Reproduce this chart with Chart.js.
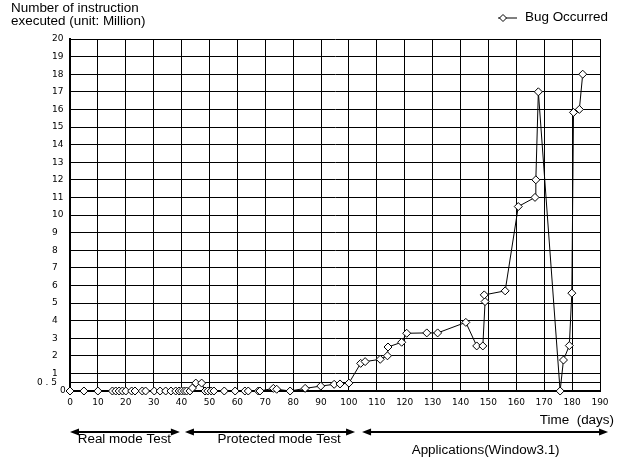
<!DOCTYPE html>
<html>
<head>
<meta charset="utf-8">
<script src="https://cdn.jsdelivr.net/npm/chart.js@4.4.1/dist/chart.umd.min.js"></script>
<style>
	html, body { margin: 0; padding: 0; background: #fff; }
</style>
</head>
<body>
<canvas id="bug-chart" width="623" height="457"></canvas>
<script>
// days since start of testing
const days = [
	0, 5, 10, 15.2, 16.4, 17.6, 18.8, 20, 22.1, 23.3, 25.9, 27.1, 30.2, 32.3,
	34.3, 36.2, 37.9, 39.1, 40, 41, 41.8, 43, 43.9, 45.1, 47.2, 48.4, 49.4,
	50.6, 51.6, 55.3, 59.2, 62.7, 63.9, 67.5, 68.1, 72.9, 74.1, 78.9, 84.3,
	89.9, 94.7, 96.8, 100, 104.2, 105.8, 111.2, 113.8, 114, 118.9, 120.7,
	127.9, 131.8, 141.9, 145.8, 148, 148.8, 148.5, 156, 160.7, 166.7, 167,
	167.9, 175.7, 176.9, 179, 179.9, 180.5, 182.6, 183.8,
];
// instructions executed before the bug showed up (million)
const instructions = [
	0, 0, 0, 0, 0, 0, 0, 0, 0, 0, 0, 0, 0, 0,
	0, 0, 0, 0, 0, 0, 0, 0, 0.17, 0.45, 0.45, 0, 0,
	0, 0, 0, 0, 0, 0, 0, 0, 0.15, 0.1, 0, 0.15,
	0.28, 0.38, 0.4, 0.45, 1.57, 1.67, 1.8, 2.0, 2.5, 2.77, 3.28,
	3.3, 3.3, 3.9, 2.56, 2.56, 5.08, 5.46, 5.69, 10.48, 11, 12,
	17, 0, 1.76, 2.58, 5.56, 15.83, 16, 18,
];
const yTicks = [0, 0.5, 1, 2, 3, 4, 5, 6, 7, 8, 9, 10, 11, 12, 13, 14, 15, 16, 17, 18, 19, 20];
const phaseNames = ["Real mode Test", "Protected mode Test", "Applications(Window3.1)"];
const phaseStart = [0, 41.2, 104.7];
const phaseEnd = [39.4, 102.2, 192.9];
const phaseLabelDay = [19.5, 75, 149];

const textFont = '12px "Liberation Sans", Arial, sans-serif';
const tickFont = '9px "DejaVu Sans", sans-serif';

// draw text slightly widened like the original
function wideText(ctx, text, x, y, align) {
	ctx.save();
	ctx.translate(x, y);
	ctx.scale(1.12, 1);
	ctx.textAlign = align;
	ctx.fillText(text, 0, 0);
	ctx.restore();
}

function diamond(ctx, x, y, r) {
	ctx.beginPath();
	ctx.moveTo(x, y - r);
	ctx.lineTo(x + r, y);
	ctx.lineTo(x, y + r);
	ctx.lineTo(x - r, y);
	ctx.closePath();
	ctx.fillStyle = "#fff";
	ctx.fill();
	ctx.stroke();
}

function arrowHead(ctx, x, y, dir) {
	ctx.beginPath();
	ctx.moveTo(x, y);
	ctx.lineTo(x - dir * 9, y - 3.5);
	ctx.lineTo(x - dir * 9, y + 3.5);
	ctx.closePath();
	ctx.fill();
}

const decorations = {
	id: "decorations",
	afterDraw(chart) {
		const ctx = chart.ctx;
		const xs = chart.scales.x;
		const ys = chart.scales.y;
		ctx.save();
		ctx.fillStyle = "#000";
		ctx.strokeStyle = "#000";
		ctx.lineWidth = 1;

		// y tick labels
		ctx.font = tickFont;
		ctx.textBaseline = "middle";
		yTicks.forEach((v) => {
			const py = ys.getPixelForValue(v);
			if (v === 0.5) {
				ctx.textAlign = "right";
				ctx.fillText("0 . 5", 57, py);
			} else if (v === 0) {
				ctx.textAlign = "left";
				ctx.fillText("0", 60, py);
			} else {
				ctx.textAlign = "left";
				ctx.fillText(String(v), 52, py);
			}
		});

		// axis titles
		ctx.font = textFont;
		ctx.fillStyle = "#000";
		wideText(ctx, "Number of instruction", 11, 9, "left");
		wideText(ctx, "executed (unit: Million)", 11, 22, "left");
		ctx.save();
		ctx.translate(614, 421);
		ctx.scale(1.12, 1);
		ctx.textAlign = "right";
		ctx.fillText("Time  (days)", 0, 0);
		ctx.restore();

		// legend
		ctx.beginPath();
		ctx.moveTo(498, 18);
		ctx.lineTo(517, 18);
		ctx.stroke();
		diamond(ctx, 503, 18, 3.5);
		ctx.fillStyle = "#000";
		wideText(ctx, "Bug Occurred", 525, 18, "left");

		// test phases
		const ay = 432;
		phaseNames.forEach((name, i) => {
			const x1 = xs.getPixelForValue(phaseStart[i]);
			const x2 = xs.getPixelForValue(phaseEnd[i]);
			ctx.lineWidth = 2;
			ctx.beginPath();
			ctx.moveTo(x1 + 4, ay);
			ctx.lineTo(x2 - 4, ay);
			ctx.stroke();
			arrowHead(ctx, x1, ay, -1);
			arrowHead(ctx, x2, ay, 1);
			const ly = i === 2 ? 451 : 440;
			wideText(ctx, name, xs.getPixelForValue(phaseLabelDay[i]), ly, "center");
		});
		ctx.restore();
	},
};

const ctx = document.getElementById("bug-chart").getContext("2d");
const bugChart = new Chart(ctx, {
	type: "line",
	data: {
		datasets: [
			{
				label: "Bug Occurred",
				data: days.map((d, i) => ({ x: d, y: instructions[i] })),
				borderColor: "#000",
				borderWidth: 1,
				pointStyle: "rectRot",
				pointRadius: 4,
				pointBackgroundColor: "#fff",
				pointBorderColor: "#000",
				pointBorderWidth: 1,
				tension: 0,
				clip: false,
			},
		],
	},
	options: {
		responsive: false,
		animation: false,
		layout: {
			padding: { top: 39, right: 23, left: 0, bottom: 0 },
		},
		scales: {
			x: {
				type: "linear",
				min: 0,
				max: 190,
				ticks: {
					stepSize: 10,
					color: "#000",
					padding: 6,
					font: { family: "DejaVu Sans", size: 9 },
				},
				grid: { color: "#000", lineWidth: 1, drawTicks: false },
				border: { color: "#000", width: 2 },
				afterFit: (scale) => {
					scale.height = 66;
				},
			},
			y: {
				min: 0,
				max: 20,
				afterBuildTicks: (scale) => {
					scale.ticks = yTicks.map((v) => ({ value: v }));
				},
				ticks: { display: false },
				grid: { color: "#000", lineWidth: 1, drawTicks: false },
				border: { color: "#000", width: 2 },
				afterFit: (scale) => {
					scale.width = 70;
				},
			},
		},
		plugins: {
			legend: { display: false },
			tooltip: { enabled: false },
		},
	},
	plugins: [decorations],
});
</script>
</body>
</html>
